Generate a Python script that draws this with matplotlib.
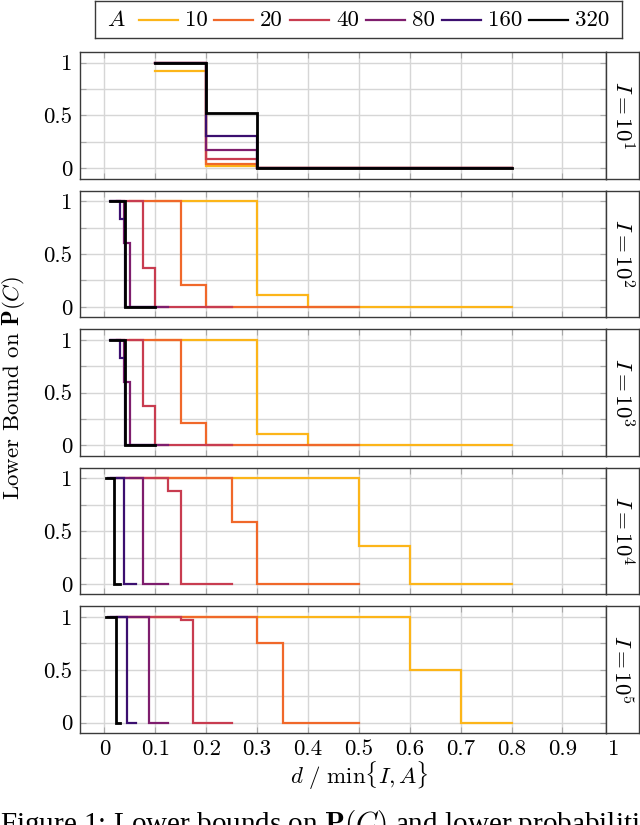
import numpy as np
import matplotlib
matplotlib.use("Agg")
import matplotlib.pyplot as plt

plt.rcParams['font.family'] = 'serif'
plt.rcParams['font.serif'] = ['cmr10', 'DejaVu Serif']
plt.rcParams['mathtext.fontset'] = 'cm'
plt.rcParams['axes.formatter.use_mathtext'] = True

# series
A_vals = ['10', '20', '40', '80', '160', '320']
colors = ['#fcb519', '#f0682a', '#c83c50', '#7e1d6d', '#3b0f6f', '#000000']
widths = [1.6, 1.6, 1.6, 1.6, 1.6, 2.0]
panel_labels = ['$I = 10^{1}$', '$I = 10^{2}$', '$I = 10^{3}$', '$I = 10^{4}$', '$I = 10^{5}$']

# x step per d (1 / min{I, A}) for each series, per panel
step_I1 = [0.1, 0.1, 0.1, 0.1, 0.1, 0.1]
step_I2 = [0.1, 0.05, 0.025, 0.0125, 0.01, 0.01]
step_I3 = [0.1, 0.05, 0.025, 0.0125, 0.01, 0.01]
step_I4 = [0.1, 0.05, 0.025, 0.0125, 0.00625, 0.003125]
step_I5 = [0.1, 0.05, 0.025, 0.0125, 0.00625, 0.003125]

# lower bound on P(C) for d = 1, 2, ... (one list per A)
pc_I1 = [
    [0.92, 0.02, 0, 0, 0, 0, 0, 0],
    [1, 0.044, 0, 0, 0, 0, 0, 0],
    [1, 0.089, 0, 0, 0, 0, 0, 0],
    [1, 0.171, 0, 0, 0, 0, 0, 0],
    [1, 0.308, 0, 0, 0, 0, 0, 0],
    [1, 0.524, 0, 0, 0, 0, 0, 0],
]
pc_I2 = [
    [1, 1, 0.11, 0, 0, 0, 0, 0],
    [1, 1, 0.21, 0, 0, 0, 0, 0, 0, 0],
    [1, 1, 0.37, 0, 0, 0, 0, 0, 0, 0],
    [1, 1, 0.6, 0, 0, 0, 0, 0, 0, 0],
    [1, 1, 0.83, 0, 0, 0, 0, 0, 0, 0],
    [1, 1, 1, 0, 0, 0, 0, 0, 0, 0],
]
pc_I3 = [
    [1, 1, 0.11, 0, 0, 0, 0, 0],
    [1, 1, 0.21, 0, 0, 0, 0, 0, 0, 0],
    [1, 1, 0.37, 0, 0, 0, 0, 0, 0, 0],
    [1, 1, 0.6, 0, 0, 0, 0, 0, 0, 0],
    [1, 1, 0.83, 0, 0, 0, 0, 0, 0, 0],
    [1, 1, 1, 0, 0, 0, 0, 0, 0, 0],
]
pc_I4 = [
    [1, 1, 1, 1, 0.357, 0, 0, 0],
    [1, 1, 1, 1, 0.586, 0, 0, 0, 0, 0],
    [1, 1, 1, 1, 0.88, 0, 0, 0, 0, 0],
    [1, 1, 1, 1, 1, 0, 0, 0, 0, 0],
    [1, 1, 1, 1, 1, 0, 0, 0, 0, 0],
    [1, 1, 1, 1, 1, 0, 0, 0, 0, 0],
]
pc_I5 = [
    [1, 1, 1, 1, 1, 0.5, 0, 0],
    [1, 1, 1, 1, 1, 0.75, 0, 0, 0, 0],
    [1, 1, 1, 1, 1, 0.97, 0, 0, 0, 0],
    [1, 1, 1, 1, 1, 1, 0, 0, 0, 0],
    [1, 1, 1, 1, 1, 1, 0, 0, 0, 0],
    [1, 1, 1, 1, 1, 1, 0, 0, 0, 0],
]

steps = [step_I1, step_I2, step_I3, step_I4, step_I5]
pcs = [pc_I1, pc_I2, pc_I3, pc_I4, pc_I5]

W, H = 640.0, 825.0
fig = plt.figure(figsize=(W / 100, H / 100), dpi=100)

ax_left, ax_right = 79.5, 605.7
strip_right = 639.0
top0, ph, gap = 52.0, 126.5, 12.1
edge = '#3a3a3a'
fs = 16.5

axes = []
for k in range(5):
    top = top0 + k * (ph + gap)
    ax = fig.add_axes([ax_left / W, 1 - (top + ph) / H, (ax_right - ax_left) / W, ph / H])
    for i in range(6):
        y = np.array(pcs[k][i], dtype=float)
        x = np.arange(1, len(y) + 1) * steps[k][i]
        ax.plot(x, y, drawstyle='steps-post', color=colors[i], lw=widths[i],
                solid_joinstyle='miter', zorder=3 + i)
    ax.set_xlim(-0.049, 0.985)
    ax.set_ylim(-0.097, 1.1)
    ax.set_xticks(np.arange(0, 0.95, 0.1))
    ax.set_yticks([0, 0.5, 1])
    ax.set_yticklabels(['0', '0.5', '1'])
    ax.set_yticks([0.25, 0.75], minor=True)
    ax.grid(True, which='both', color='#d6d6d6', lw=1.0, zorder=0)
    ax.tick_params(which='both', direction='in', length=4, width=0.8, color='#a8a8a8',
                   top=True, right=True, labelsize=fs, pad=5)
    for sp in ax.spines.values():
        sp.set_color(edge)
        sp.set_linewidth(1.0)
    if k < 4:
        ax.set_xticklabels([])
    else:
        ax.set_xticklabels(['0', '0.1', '0.2', '0.3', '0.4', '0.5', '0.6', '0.7', '0.8', '0.9'])
        ax.annotate('1', xy=(1.0, 0), xycoords=('data', 'axes fraction'), xytext=(0, -5),
                    textcoords='offset points', ha='center', va='top', fontsize=fs)
    # strip with I label
    sax = fig.add_axes([ax_right / W, 1 - (top + ph) / H, (strip_right - ax_right) / W, ph / H])
    sax.set_xticks([])
    sax.set_yticks([])
    for sp in sax.spines.values():
        sp.set_color(edge)
        sp.set_linewidth(1.0)
    sax.text(0.5, 0.5, panel_labels[k], rotation=-90, ha='center', va='center',
             fontsize=fs, transform=sax.transAxes)
    axes.append(ax)

# legend box on top
lax = fig.add_axes([95 / W, 1 - 38 / H, (622 - 95) / W, 37 / H])
lax.set_xlim(95, 622)
lax.set_ylim(0, 1)
lax.set_xticks([])
lax.set_yticks([])
for sp in lax.spines.values():
    sp.set_color(edge)
    sp.set_linewidth(1.0)
lax.text(116, 0.5, '$A$', ha='center', va='center', fontsize=fs)
line_starts = [139, 214, 290, 366, 442, 529]
for i in range(6):
    s = line_starts[i]
    lax.plot([s, s + 39], [0.5, 0.5], color=colors[i], lw=1.6)
    lax.text(s + 46, 0.48, A_vals[i], ha='left', va='center', fontsize=fs)

fig.text(14 / W, 1 - 388 / H, r'Lower Bound on $\mathbf{P}(C)$', rotation=90,
         ha='center', va='center', fontsize=fs)
fig.text(359 / W, 1 - 776 / H, r'$d\ /\ \min\{I, A\}$', ha='center', va='center', fontsize=fs)
fig.text(0, 1 - 808 / H, r'Figure 1: Lower bounds on $\mathbf{P}(C)$ and lower probabilities',
         ha='left', va='top', fontsize=21, family='Liberation Serif')

fig.savefig('out.png', dpi=100)
